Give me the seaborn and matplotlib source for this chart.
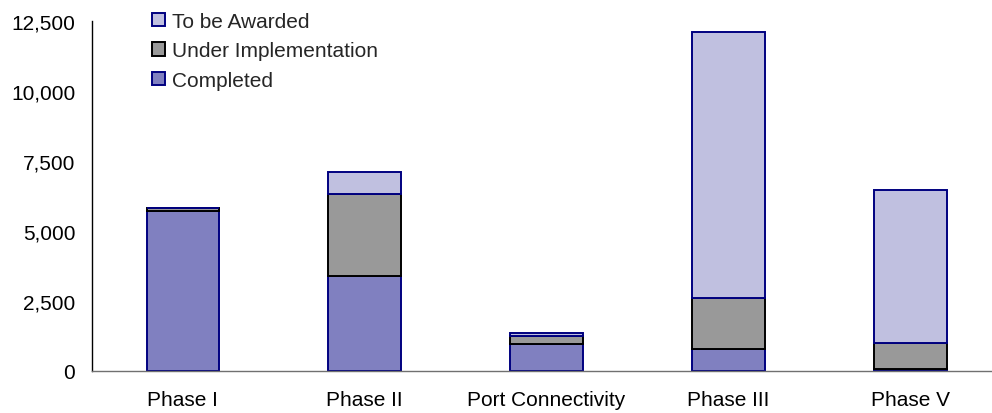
import matplotlib
matplotlib.use("Agg")
import matplotlib.pyplot as plt
import seaborn as sns
import numpy as np
from matplotlib.ticker import FuncFormatter

# Project length by programme phase, split by status
phases = ["Phase I", "Phase II", "Port Connectivity", "Phase III", "Phase V"]
completed = [5700, 3390, 960, 790, 60]
under_implementation = [130, 2940, 280, 1820, 930]
to_be_awarded = [0, 770, 110, 9510, 5480]
y_ticks = [0, 2500, 5000, 7500, 10000, 12500]

sns.set_theme(style="white")
plt.rcParams["font.family"] = ["Liberation Sans", "DejaVu Sans"]

fig = plt.figure(figsize=(9.92, 4.14), dpi=100)
ax = fig.add_axes([92 / 992, 42 / 414, 900 / 992, 350 / 414])

layers = [
    ("Completed", completed, "#8080C0", "#000080"),
    ("Under Implementation", under_implementation, "#999999", "#000000"),
    ("To be Awarded", to_be_awarded, "#C0C0E0", "#000080"),
]

base = np.zeros(len(phases))
for label, vals, face, edge in layers:
    sns.barplot(x=phases, y=vals, bottom=base.copy(), color=face,
                edgecolor=edge, linewidth=1.4, width=0.4, saturation=1,
                label=label, ax=ax, errorbar=None)
    base = base + np.array(vals)

ax.set_xlim(-0.5, 4.45)
ax.set_ylim(0, 12500)
ax.set_yticks(y_ticks)
ax.yaxis.set_major_formatter(FuncFormatter(lambda v, p: f"{int(v):,}"))
ax.tick_params(axis="both", length=0, labelsize=15, colors="black")
ax.tick_params(axis="y", pad=12)
ax.tick_params(axis="x", pad=14)

for side in ("top", "right"):
    ax.spines[side].set_visible(False)
ax.spines["left"].set_color("black")
ax.spines["left"].set_linewidth(1.0)
ax.spines["bottom"].set_color("#707070")
ax.spines["bottom"].set_linewidth(1.0)
ax.set_xlabel("")
ax.set_ylabel("")

handles, labels = ax.get_legend_handles_labels()
leg = ax.legend(handles[::-1], labels[::-1], loc="upper left",
                bbox_to_anchor=(152 / 992, 1 - 13 / 414),
                bbox_transform=fig.transFigure, frameon=False,
                fontsize=15, handlelength=0.6, handleheight=0.6,
                handletextpad=0.35, labelspacing=0.5, borderpad=0,
                borderaxespad=0)

fig.savefig("out.png", dpi=100)
